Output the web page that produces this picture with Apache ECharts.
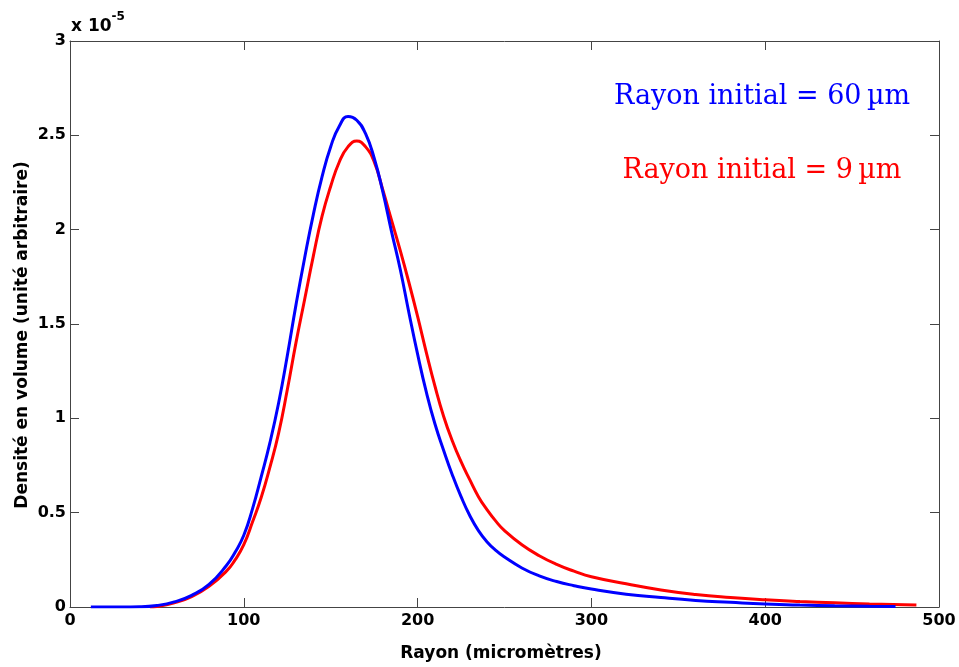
<!DOCTYPE html>
<html>
<head>
<meta charset="utf-8">
<script src="https://cdn.jsdelivr.net/npm/echarts@6/dist/echarts.min.js"></script>
<style>
html,body{margin:0;padding:0;background:#fff;}
#main{width:959px;height:667px;}
</style>
</head>
<body>
<div id="main"></div>
<script>
// Rayon (micrometres)
var blueX = [12,20,30,40,50,60,70,80,90,95,100,105,110,115,120,125,130,135,140,145,150,155,160,165,170,175,180,185,190,195,200,205,210,215,220,225,230,235,240,245,250,260,270,280,290,300,320,340,360,380,400,420,440,460,475];
// Densite (x 1e-5)
var blueY = [0,0,0,0.001,0.008,0.027,0.062,0.12,0.22,0.29,0.38,0.52,0.69,0.87,1.08,1.33,1.60,1.85,2.08,2.28,2.44,2.55,2.60,2.58,2.51,2.38,2.20,1.99,1.79,1.56,1.34,1.14,0.97,0.83,0.70,0.585,0.485,0.405,0.345,0.30,0.265,0.207,0.165,0.135,0.113,0.095,0.068,0.050,0.035,0.025,0.016,0.010,0.006,0.004,0.003];

var redX = [46,50,60,70,80,90,95,100,105,110,115,120,125,130,135,140,145,150,155,160,165,170,175,180,185,190,195,200,205,210,215,220,225,230,235,240,245,250,260,270,280,290,300,320,340,360,380,400,420,440,460,487];
var redY = [0,0.003,0.022,0.055,0.11,0.19,0.25,0.33,0.45,0.58,0.74,0.92,1.15,1.40,1.63,1.86,2.07,2.23,2.36,2.44,2.47,2.44,2.36,2.21,2.05,1.89,1.72,1.54,1.35,1.17,1.01,0.88,0.77,0.675,0.585,0.515,0.455,0.405,0.33,0.272,0.226,0.19,0.16,0.123,0.09,0.066,0.05,0.038,0.029,0.022,0.016,0.01];

var xTicks = [0,100,200,300,400,500];
var yTicks = [0,0.5,1,1.5,2,2.5,3];
var labelBlue = 'Rayon initial = 60\u2009\u00b5m';
var labelRed = 'Rayon initial = 9\u2009\u00b5m';
var xTitle = 'Rayon (micromètres)';
var yTitle = 'Densité en volume (unité arbitraire)';

function pairs(xs, ys){ return xs.map(function(x,i){ return [x, ys[i]]; }); }

var axisColor = '#444';
var sansBold = '"DejaVu Sans", "Liberation Sans", Arial';
var tickFont = {fontFamily:sansBold, fontWeight:'bold', fontSize:16, color:'#000'};

var chart = echarts.init(document.getElementById('main'));
chart.setOption({
  animation:false,
  backgroundColor:'#fff',
  grid:{left:70, right:20, top:41, bottom:60},
  xAxis:[{
    type:'value', min:xTicks[0], max:xTicks[xTicks.length-1], interval:100,
    axisLine:{show:true, onZero:false, lineStyle:{color:axisColor, width:1}},
    axisTick:{show:true, inside:true, length:9, lineStyle:{color:axisColor}},
    axisLabel:Object.assign({margin:6}, tickFont),
    splitLine:{show:false}
  },{
    type:'value', position:'top', min:xTicks[0], max:xTicks[xTicks.length-1], interval:100,
    axisLine:{show:true, onZero:false, lineStyle:{color:axisColor, width:1}},
    axisTick:{show:true, inside:true, length:9, lineStyle:{color:axisColor}},
    axisLabel:{show:false}, splitLine:{show:false}
  }],
  yAxis:[{
    type:'value', min:yTicks[0], max:yTicks[yTicks.length-1], interval:0.5,
    axisLine:{show:true, onZero:false, lineStyle:{color:axisColor, width:1}},
    axisTick:{show:true, inside:true, length:9, lineStyle:{color:axisColor}},
    axisLabel:Object.assign({margin:4, formatter:function(v){return String(v);}}, tickFont),
    splitLine:{show:false}
  },{
    type:'value', position:'right', min:yTicks[0], max:yTicks[yTicks.length-1], interval:0.5,
    axisLine:{show:true, onZero:false, lineStyle:{color:axisColor, width:1}},
    axisTick:{show:true, inside:true, length:9, lineStyle:{color:axisColor}},
    axisLabel:{show:false}, splitLine:{show:false}
  }],
  graphic:[
    {type:'text', left:71, top:11, style:{
      text:'{a|x 10}{b|-5}',
      rich:{
        a:{fontFamily:sansBold, fontWeight:'bold', fontSize:17, fill:'#000', verticalAlign:'bottom', lineHeight:24},
        b:{fontFamily:sansBold, fontWeight:'bold', fontSize:12, fill:'#000', verticalAlign:'top', padding:[0,0,12,0]}
      }
    }},
    {type:'text', x:501, y:654, style:{text:xTitle, fill:'#000', font:'bold 17px ' + sansBold, textAlign:'center', textVerticalAlign:'middle'}},
    {type:'text', x:23, y:335, rotation:Math.PI/2, style:{text:yTitle, fill:'#000', font:'bold 17px ' + sansBold, textAlign:'center', textVerticalAlign:'middle'}},
    {type:'text', x:762, y:97, style:{text:labelBlue, fill:'#0000ff', font:'27px "DejaVu Serif", "Liberation Serif", serif', textAlign:'center', textVerticalAlign:'middle'}},
    {type:'text', x:762, y:171, style:{text:labelRed, fill:'#ff0000', font:'27px "DejaVu Serif", "Liberation Serif", serif', textAlign:'center', textVerticalAlign:'middle'}}
  ],
  series:[
    {type:'line', data:pairs(redX, redY), showSymbol:false, smooth:0.5,
     lineStyle:{color:'#ff0000', width:3}, itemStyle:{color:'#ff0000'}, z:2},
    {type:'line', data:pairs(blueX, blueY), showSymbol:false, smooth:0.5,
     lineStyle:{color:'#0000ff', width:3}, itemStyle:{color:'#0000ff'}, z:3}
  ]
});
</script>
</body>
</html>
